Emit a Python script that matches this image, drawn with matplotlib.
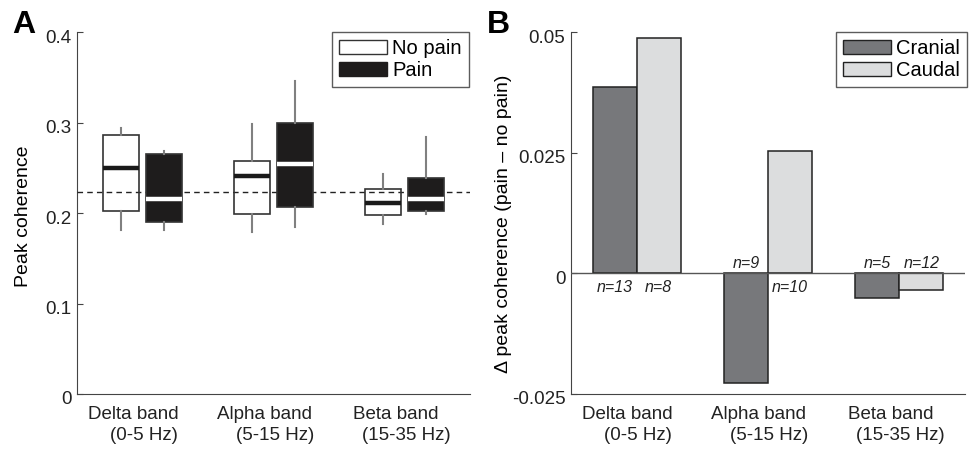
import numpy as np
import matplotlib
matplotlib.use('Agg')
import matplotlib.pyplot as plt
import matplotlib.transforms as mtransforms
from matplotlib.patches import Patch

plt.rcParams['font.family'] = ['Liberation Sans', 'DejaVu Sans']

# Categorias (bandas)
bands = ['Delta band\n    (0-5 Hz)', 'Alpha band\n    (5-15 Hz)', 'Beta band\n    (15-35 Hz)']

# Panel A: estadisticos de las cajas
no_pain_med = [0.250, 0.2405, 0.2107]
no_pain_q1 = [0.2026, 0.199, 0.1975]
no_pain_q3 = [0.2865, 0.258, 0.2262]
no_pain_lo = [0.181, 0.179, 0.188]
no_pain_hi = [0.2936, 0.298, 0.2427]

pain_med = [0.216, 0.2545, 0.2158]
pain_q1 = [0.190, 0.207, 0.2026]
pain_q3 = [0.265, 0.300, 0.239]
pain_lo = [0.181, 0.185, 0.1986]
pain_hi = [0.268, 0.346, 0.2836]

baseline = 0.2229

# Panel B: diferencias
cranial = [0.0386, -0.0227, -0.0052]
caudal = [0.0488, 0.0253, -0.0035]
n_cranial = [13, 9, 5]
n_caudal = [8, 10, 12]

fig = plt.figure(figsize=(9.75, 4.49), dpi=100)
axA = fig.add_axes([0.079, 0.1225, 0.403, 0.8062])
axB = fig.add_axes([0.5856, 0.1225, 0.4041, 0.8062])

x = np.arange(1, 4)
off = 0.165
spine_col = '#444444'


def stats(med, q1, q3, lo, hi):
    return [dict(med=m, q1=a, q3=b, whislo=l, whishi=h, fliers=[])
            for m, a, b, l, h in zip(med, q1, q3, lo, hi)]


# --- Panel A ---
axA.axhline(baseline, color='#222222', lw=1, ls=(0, (4, 3)), zorder=3)

for st, pos, face, medc in [
        (stats(no_pain_med, no_pain_q1, no_pain_q3, no_pain_lo, no_pain_hi), x - off, 'none', '#1a1a1a'),
        (stats(pain_med, pain_q1, pain_q3, pain_lo, pain_hi), x + off, '#1e1c1c', 'white')]:
    axA.bxp(st, positions=pos, widths=0.27, patch_artist=True, showcaps=False,
            showfliers=False,
            boxprops=dict(facecolor=face, edgecolor='#333333', lw=1.2),
            whiskerprops=dict(color='#808080', lw=1.5),
            medianprops=dict(color=medc, lw=3.2, solid_capstyle='butt'),
            manage_ticks=False, zorder=4)

axA.set_xlim(0.5, 3.5)
axA.set_ylim(0, 0.4)
axA.set_yticks([0, 0.1, 0.2, 0.3, 0.4])
axA.set_yticklabels(['0', '0.1', '0.2', '0.3', '0.4'])
axA.set_ylabel('Peak coherence', fontsize=14)
axA.yaxis.set_label_coords(-0.114, 0.49)

leg_kw = dict(loc='upper right', fontsize=14.5, fancybox=False, edgecolor='#333333',
              handlelength=2.4, handleheight=0.75, handletextpad=0.25, borderpad=0.35,
              labelspacing=0.15, borderaxespad=0)
legA = axA.legend(handles=[Patch(facecolor='white', edgecolor='#333333', label='No pain'),
                           Patch(facecolor='#1e1c1c', edgecolor='#1e1c1c', label='Pain')],
                  bbox_to_anchor=(0.997, 1.0), **leg_kw)
legA.get_frame().set_linewidth(1)

# --- Panel B ---
w = 0.335
axB.bar(x - w / 2, cranial, width=w, color='#77787b', edgecolor='#222222', lw=1.1, zorder=2)
axB.bar(x + w / 2, caudal, width=w, color='#dcddde', edgecolor='#222222', lw=1.1, zorder=2)
axB.axhline(0, color='#555555', lw=1, zorder=3)

for xs, vals, ns in [(x - w / 2, cranial, n_cranial), (x + w / 2, caudal, n_caudal)]:
    for xi, v, n in zip(xs, vals, ns):
        if v > 0:
            axB.annotate(f'n={n}', (xi, 0), xytext=(0, -5), textcoords='offset points',
                         ha='center', va='top', fontsize=11.5, style='italic', color='#222222')
        else:
            axB.annotate(f'n={n}', (xi, 0), xytext=(0, 1.5), textcoords='offset points',
                         ha='center', va='bottom', fontsize=11.5, style='italic', color='#222222')

axB.set_xlim(0.5, 3.5)
axB.set_ylim(-0.025, 0.05)
axB.set_yticks([-0.025, 0, 0.025, 0.05])
axB.set_yticklabels(['-0.025', '0', '0.025', '0.05'])
axB.set_ylabel('\u0394 peak coherence (pain \u2013 no pain)', fontsize=14)
axB.yaxis.set_label_coords(-0.150, 0.47)
legB = axB.legend(handles=[Patch(facecolor='#77787b', edgecolor='#222222', label='Cranial'),
                           Patch(facecolor='#dcddde', edgecolor='#222222', label='Caudal')],
                  bbox_to_anchor=(1.005, 1.0), **leg_kw)
legB.get_frame().set_linewidth(1)

# estilo comun de ejes
shift = mtransforms.ScaledTranslation(-9 / 100, 0, fig.dpi_scale_trans)
ydown = mtransforms.ScaledTranslation(0, -4 / 100, fig.dpi_scale_trans)
for ax in (axA, axB):
    ax.spines['top'].set_visible(False)
    ax.spines['right'].set_visible(False)
    ax.spines['left'].set_color(spine_col)
    ax.spines['bottom'].set_color(spine_col)
    ax.set_xticks(x)
    ax.set_xticklabels(bands, fontsize=13.5, color='#222222', linespacing=1.3)
    ax.tick_params(axis='x', length=0, pad=9)
    ax.tick_params(axis='y', direction='in', length=4, color=spine_col, labelsize=13.5,
                   labelcolor='#222222', pad=4)
    for lab in ax.get_xticklabels():
        lab.set_transform(lab.get_transform() + shift)
    for lab in ax.get_yticklabels():
        lab.set_transform(lab.get_transform() + ydown)

fig.text(0.013, 0.9265, 'A', fontsize=23, fontweight='bold', va='baseline')
fig.text(0.499, 0.9265, 'B', fontsize=23, fontweight='bold', va='baseline')

fig.savefig('out.png', dpi=100)
